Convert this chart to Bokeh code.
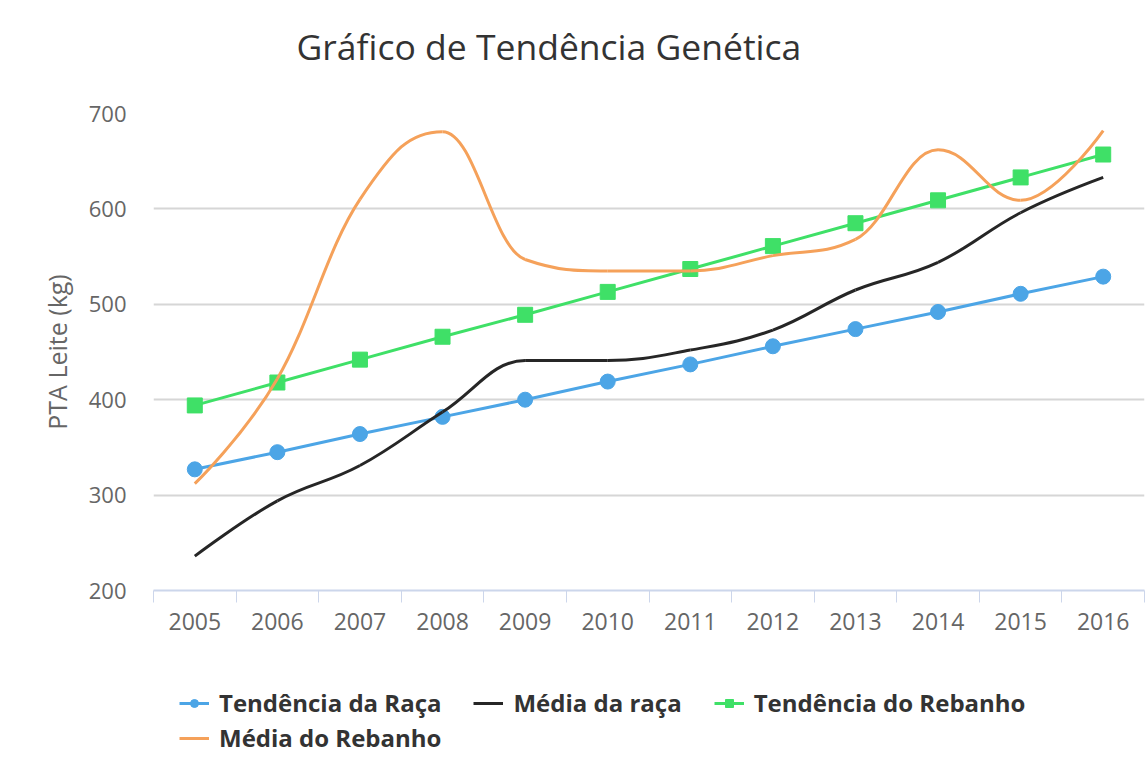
from bokeh.plotting import figure
from bokeh.layouts import column
from bokeh.models import (Range1d, FixedTicker, Legend, LegendItem, Label,
                          ColumnDataSource)
from bokeh.embed import file_html
from bokeh.resources import INLINE

years = ["2005", "2006", "2007", "2008", "2009", "2010",
         "2011", "2012", "2013", "2014", "2015", "2016"]
tendencia_raca = [327, 345, 364, 382, 400, 419, 437, 456, 474, 492, 511, 529]
media_raca = [236, 294, 331, 387, 441, 441, 452, 473, 515, 544, 596, 633]
tendencia_rebanho = [394, 418, 442, 466, 489, 513, 537, 561, 585, 609, 633, 657]
media_rebanho = [312, 422, 610, 681, 547, 535, 535, 551, 568, 662, 609, 682]
y_ticks = [200, 300, 400, 500, 600, 700]

FONT = "Open Sans"
xs = list(range(len(years)))


def spline_segments(px, py, smoothing=1.5):
    """Bezier segments in the style of a Highcharts 'spline' series."""
    n = len(px)
    denom = smoothing + 1
    right_c = [None] * n
    left_c = [None] * n
    for i in range(n):
        if 0 < i < n - 1:
            x, y = px[i], py[i]
            lx, ly = px[i - 1], py[i - 1]
            nx, ny = px[i + 1], py[i + 1]
            lcx = (smoothing * x + lx) / denom
            lcy = (smoothing * y + ly) / denom
            rcx = (smoothing * x + nx) / denom
            rcy = (smoothing * y + ny) / denom
            corr = 0.0
            if rcx != lcx:
                corr = ((rcy - lcy) * (rcx - x)) / (rcx - lcx) + y - rcy
            lcy += corr
            rcy += corr
            if lcy > ly and lcy > y:
                lcy = max(ly, y)
                rcy = 2 * y - lcy
            elif lcy < ly and lcy < y:
                lcy = min(ly, y)
                rcy = 2 * y - lcy
            if rcy > ny and rcy > y:
                rcy = max(ny, y)
                lcy = 2 * y - rcy
            elif rcy < ny and rcy < y:
                rcy = min(ny, y)
                lcy = 2 * y - rcy
            left_c[i] = (lcx, lcy)
            right_c[i] = (rcx, rcy)
    d = dict(x0=[], y0=[], x1=[], y1=[], cx0=[], cy0=[], cx1=[], cy1=[])
    for i in range(1, n):
        c0 = right_c[i - 1] or (px[i - 1], py[i - 1])
        c1 = left_c[i] or (px[i], py[i])
        d["x0"].append(px[i - 1]); d["y0"].append(py[i - 1])
        d["x1"].append(px[i]); d["y1"].append(py[i])
        d["cx0"].append(c0[0]); d["cy0"].append(c0[1])
        d["cx1"].append(c1[0]); d["cy1"].append(c1[1])
    return ColumnDataSource(d)


def bare_panel(height):
    f = figure(width=1147, height=height, output_backend="svg", toolbar_location=None,
               x_range=Range1d(0, 1), y_range=Range1d(0, 1),
               x_axis_location=None, y_axis_location=None,
               min_border=0, min_border_left=0, min_border_right=0,
               min_border_top=0, min_border_bottom=0)
    f.grid.visible = False
    f.outline_line_color = None
    f.background_fill_color = "white"
    f.border_fill_color = "white"
    return f


# ---- title panel ----
tp = bare_panel(80)
tp.add_layout(Label(x=143, y=35, x_units="screen", y_units="screen",
                    text="Gráfico de Tendência Genética",
                    text_font=FONT, text_font_size="35.5px",
                    text_color="#333333", text_align="left",
                    text_baseline="alphabetic"))

# ---- main chart ----
p = figure(width=1147, height=570, output_backend="svg", toolbar_location=None,
           x_range=Range1d(-0.5, 11.5), y_range=Range1d(200, 700),
           min_border_left=153, min_border_right=3, min_border_top=33,
           min_border_bottom=60)
p.outline_line_color = None
p.background_fill_color = "white"
p.border_fill_color = "white"

p.xaxis.ticker = FixedTicker(ticks=xs, minor_ticks=[i - 0.5 for i in range(len(years) + 1)])
p.xaxis.major_label_overrides = {i: y for i, y in enumerate(years)}
p.xaxis.major_tick_line_color = None
p.xaxis.minor_tick_line_color = "#ccd6eb"
p.xaxis.minor_tick_line_width = 1
p.xaxis.minor_tick_in = 0
p.xaxis.minor_tick_out = 12
p.xaxis.axis_line_color = "#ccd6eb"
p.xaxis.axis_line_width = 2
p.xaxis.major_label_text_font = FONT
p.xaxis.major_label_text_font_size = "23px"
p.xaxis.major_label_text_color = "#666666"
p.xaxis.major_label_standoff = 10

p.yaxis.ticker = FixedTicker(ticks=y_ticks)
p.yaxis.axis_line_color = None
p.yaxis.major_tick_line_color = None
p.yaxis.minor_tick_line_color = None
p.yaxis.major_label_text_font = FONT
p.yaxis.major_label_text_font_size = "22px"
p.yaxis.major_label_text_color = "#666666"
p.yaxis.major_label_standoff = 21
p.yaxis.axis_label = "PTA Leite (kg)"
p.yaxis.axis_label_text_font = FONT
p.yaxis.axis_label_text_font_size = "25px"
p.yaxis.axis_label_text_font_style = "normal"
p.yaxis.axis_label_text_color = "#666666"
p.yaxis.axis_label_standoff = 12

p.xgrid.grid_line_color = None
p.ygrid.grid_line_color = "#d6d6d6"
p.ygrid.grid_line_width = 2

BLUE = "#4ca5e6"
BLACK = "#262626"
GREEN = "#3fe067"
ORANGE = "#f5a15a"

p.line(xs, tendencia_raca, line_color=BLUE, line_width=3)
p.scatter(xs, tendencia_raca, marker="circle", size=15,
          fill_color=BLUE, line_color=BLUE)

p.bezier("x0", "y0", "x1", "y1", "cx0", "cy0", "cx1", "cy1",
         source=spline_segments(xs, media_raca),
         line_color=BLACK, line_width=3)

p.line(xs, tendencia_rebanho, line_color=GREEN, line_width=3)
p.scatter(xs, tendencia_rebanho, marker="square", size=15,
          fill_color=GREEN, line_color=GREEN)

p.bezier("x0", "y0", "x1", "y1", "cx0", "cy0", "cx1", "cy1",
         source=spline_segments(xs, media_rebanho),
         line_color=ORANGE, line_width=3)

# ---- legend panel ----
lg = bare_panel(123)

# legend-only proxies (a single NaN point: nothing is drawn in the panel)
NA = [float("nan")]
k_raca_l = lg.line(NA, NA, line_color=BLUE, line_width=3)
k_raca_m = lg.scatter(NA, NA, marker="circle", size=13, fill_color=BLUE, line_color=BLUE)
k_media_raca = lg.line(NA, NA, line_color=BLACK, line_width=3)
k_reb_l = lg.line(NA, NA, line_color=GREEN, line_width=3)
k_reb_m = lg.scatter(NA, NA, marker="square", size=13, fill_color=GREEN, line_color=GREEN)
k_media_reb = lg.line(NA, NA, line_color=ORANGE, line_width=3)


def style_legend(leg):
    leg.label_text_font = FONT
    leg.label_text_font_size = "24px"
    leg.label_text_font_style = "bold"
    leg.label_text_color = "#333333"
    leg.border_line_color = None
    leg.background_fill_alpha = 0
    leg.glyph_width = 30
    leg.glyph_height = 20
    leg.label_standoff = 10
    leg.spacing = 32
    leg.margin = 0
    leg.padding = 4
    leg.label_height = 26


legend1 = Legend(items=[
    LegendItem(label="Tendência da Raça", renderers=[k_raca_l, k_raca_m]),
    LegendItem(label="Média da raça", renderers=[k_media_raca]),
    LegendItem(label="Tendência do Rebanho", renderers=[k_reb_l, k_reb_m]),
], orientation="horizontal", location=(26, 54))
legend2 = Legend(items=[
    LegendItem(label="Média do Rebanho", renderers=[k_media_reb]),
], orientation="horizontal", location=(26, 19))
style_legend(legend1)
style_legend(legend2)
lg.add_layout(legend1)
lg.add_layout(legend2)

layout = column(tp, p, lg, spacing=0)
open("out.html", "w").write(file_html(layout, INLINE))
